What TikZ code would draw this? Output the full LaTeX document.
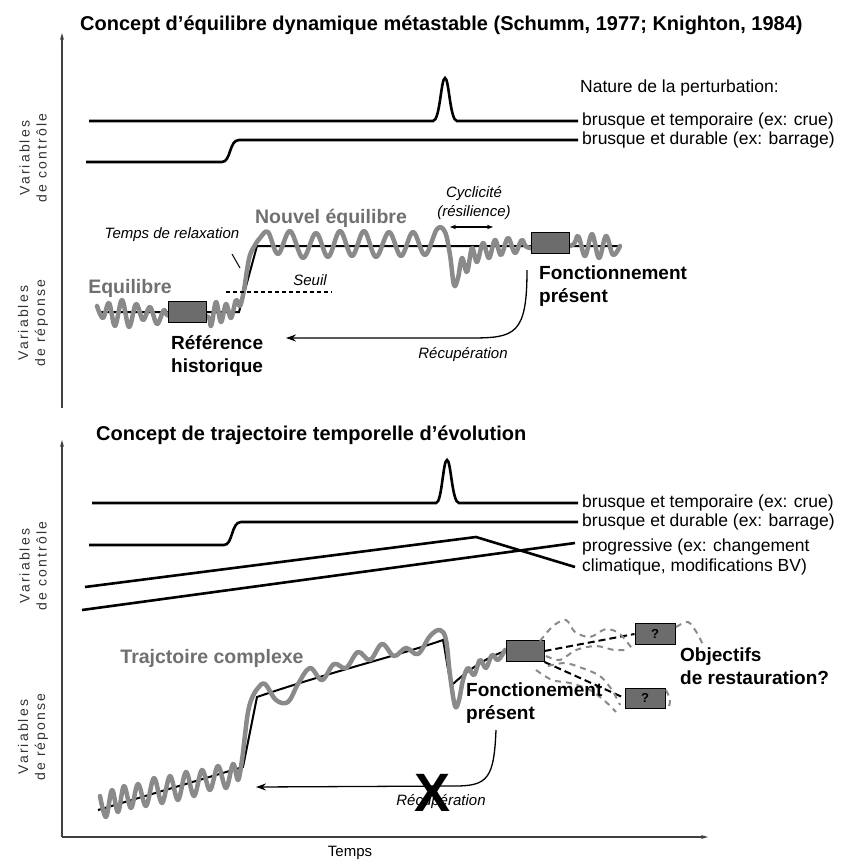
\documentclass[tikz,border=0pt]{standalone}
\usepackage{fontspec}
\setmainfont{Liberation Sans}
\newfontfamily\axisfont[LetterSpace=15]{Liberation Sans}
\usetikzlibrary{arrows.meta}
\definecolor{wavegray}{RGB}{138,138,138}
\definecolor{boxgray}{RGB}{108,108,108}
\definecolor{labgray}{RGB}{112,112,112}

\begin{document}
\begin{tikzpicture}[x=1pt,y=-1pt,
  ttl/.style={inner sep=0pt,anchor=west,font=\fontsize{20}{24}\selectfont\bfseries},
  lbl/.style={inner sep=0pt,anchor=west,font=\fontsize{17.5}{20}\selectfont},
  note/.style={inner sep=0pt,font=\fontsize{15}{19}\selectfont\itshape},
  big/.style={inner sep=0pt,align=left,font=\fontsize{19}{23}\selectfont\bfseries},
  gbig/.style={inner sep=0pt,text=labgray,font=\fontsize{19.5}{23}\selectfont\bfseries},
  axlbl/.style={inner sep=0pt,rotate=90,align=center,text=black!80,font=\axisfont\fontsize{14}{17}\selectfont},
  axis/.style={draw=black!75,line width=1.5pt,-{Stealth[length=7pt,width=4pt]}},
  ctrl/.style={line width=2.6pt,shorten >=4pt},
  trend/.style={line width=2pt},
  wave/.style={draw=wavegray,line width=4.5pt,line join=round,line cap=round},
  bx/.style={draw=black,fill=boxgray,line width=1pt,minimum width=38pt,minimum height=21pt,inner sep=0pt},
  recov/.style={line width=1.3pt,-{Stealth[length=10pt,width=7pt]}},
  branch/.style={line width=2pt,dash pattern=on 7pt off 4pt},
  gdash/.style={draw=wavegray,line width=2pt,dash pattern=on 6pt off 5pt}]
\useasboundingbox (0,0) rectangle (842,862);

% equilibre dynamique metastable
\node[ttl] (title1) at (80,25) {Concept d’équilibre dynamique métastable (Schumm, 1977; Knighton, 1984)};
\coordinate (ax1b) at (62,408);
\coordinate (ax1t) at (62,33);
\draw[axis] (ax1b) -- (ax1t);
\node[axlbl] (ctl1) at (33,158) {Variables\\de contrôle};
\node[axlbl] (rep1) at (33,323) {Variables\\de réponse};

\node[lbl] (nat) at (580,88) {Nature de la perturbation:};
\node[lbl] (crue1) at (582,121) {brusque et temporaire (ex: crue)};
\node[lbl] (barr1) at (582,140) {brusque et durable (ex: barrage)};
\draw[ctrl] (89,121) -- (433,121) .. controls (440,121) and (441,78) .. (445,78)
  .. controls (449,78) and (450,121) .. (457,121) -- (crue1.west);
\draw[ctrl] (86,162) -- (222,162) .. controls (231,162) and (229,140) .. (239,140) -- (barr1.west);

\draw[trend] (100,312) -- (239,312) -- (257,246) -- (620,246);
\draw[wave] plot[smooth,tension=0.6] coordinates {(97,306) (103,318) (109,303) (115,326)
  (122,300) (129,327) (136,304) (143,320) (150,307) (157,324) (164,310) (170,316)
  (206,316) (211,326) (216,302) (221,322) (226,304) (231,318) (236,300) (240,306)
  (244,290) (247,270) (250,255) (255,245) (260,238) (268,232) (278,254) (290,231)
  (303,258) (316,233) (328,257) (340,231) (352,256) (364,231) (376,257) (389,232)
  (401,256) (413,232) (425,255) (437,229) (445,232) (450,255) (454,285) (458,278)
  (462,258) (467,272) (472,248) (477,262) (483,243) (489,258) (495,240) (501,255)
  (508,238) (515,253) (522,240) (530,248) (570,246) (578,236) (585,256) (592,234)
  (599,258) (606,236) (613,255) (620,246)};
\node[bx] (ref) at (187,312) {};
\node[bx] (pres1) at (550,243) {};

\node[gbig] (equi) at (130,288) {Equilibre};
\node[gbig] (neq) at (331,218) {Nouvel équilibre};
\node[note] (relax) at (172,235) {Temps de relaxation};
\coordinate (relaxA) at (232,254);
\coordinate (relaxB) at (240,268);
\draw[line width=1pt] (relaxA) -- (relaxB);
\node[note] (seuil) at (310,280) {Seuil};
\coordinate (seuilA) at (226,292);
\coordinate (seuilB) at (332,292);
\draw[line width=1.3pt,dash pattern=on 4pt off 3pt] (seuilA) -- (seuilB);
\node[note,align=center] (cycl) at (474,203) {Cyclicité\\(résilience)};
\coordinate (cycA) at (450,227);
\coordinate (cycB) at (493,227);
\draw[line width=1.2pt,{Stealth[length=6pt]}-{Stealth[length=6pt]}] (cycA) -- (cycB);

\node[big,anchor=west] (fonc1) at (539,286) {Fonctionnement\\présent};
\node[big,anchor=west] (hist) at (171,356) {Référence\\historique};
\coordinate (rec1a) at (527,270);
\coordinate (rec1b) at (286,338);
\draw[recov] (rec1a) .. controls (527,335) and (515,338) .. (470,338) -- (rec1b);
\node[note] (recu1) at (463,355) {Récupération};

% trajectoire temporelle
\node[ttl] (title2) at (96,435) {Concept de trajectoire temporelle d’évolution};
\coordinate (orig) at (62,837);
\coordinate (ax2t) at (62,440);
\coordinate (ax2r) at (708,837);
\draw[axis] (orig) -- (ax2t);
\draw[axis] (orig) -- (ax2r);
\node[axlbl] (ctl2) at (33,566) {Variables\\de contrôle};
\node[axlbl] (rep2) at (33,737) {Variables\\de réponse};
\node[inner sep=0pt,font=\fontsize{15}{18}\selectfont] (temps) at (350,853) {Temps};

\node[lbl] (crue2) at (582,503) {brusque et temporaire (ex: crue)};
\node[lbl] (barr2) at (582,522) {brusque et durable (ex: barrage)};
\node[lbl,align=left] (prog) at (582,557) {progressive (ex: changement\\climatique, modifications BV)};
\coordinate (progA) at (575,543);
\coordinate (progB) at (575,567);
\draw[ctrl] (92,503) -- (436,503) .. controls (442,503) and (443,460) .. (447,460)
  .. controls (451,460) and (452,503) .. (459,503) -- (crue2.west);
\draw[ctrl] (89,545) -- (224,545) .. controls (233,545) and (231,522) .. (241,522) -- (barr2.west);
\draw[ctrl,shorten >=0pt] (85,587) -- (476,537) -- (progB);
\draw[ctrl,shorten >=0pt] (82,610) -- (progA);

\node[bx] (pres2) at (525,651) {};
\draw[trend] (98,810) -- (243,767) -- (257,697) .. controls (330,672) and (400,655) .. (443,640)
  .. controls (447,660) and (449,683) .. (453,684) .. controls (470,668) and (490,656) .. (pres2.west);
\draw[wave] plot[smooth,tension=0.6] coordinates {(100,796) (106,817) (112,790) (118,812)
  (124,786) (131,808) (138,784) (146,806) (154,778) (162,803) (170,776) (178,800)
  (186,772) (194,796) (202,770) (210,790) (218,766) (226,788) (233,764) (238,780)
  (242,760) (245,735) (248,712) (252,698) (258,688) (265,684) (276,700) (288,702)
  (298,684) (310,668) (322,680) (334,664) (346,668) (358,652) (370,660) (382,644)
  (394,656) (406,648) (418,654) (430,636) (440,630) (446,640) (450,675) (455,706)
  (459,700) (463,680) (468,668) (474,675) (480,660) (486,668) (492,655) (498,660)
  (505,650)};
\node[bx] (pres2b) at (525,651) {};
\node[bx,minimum width=40pt,font=\fontsize{13}{13}\selectfont\bfseries] (q1) at (655,634) {?};
\node[bx,minimum width=40pt,minimum height=20pt,font=\fontsize{13}{13}\selectfont\bfseries] (q2) at (645,698) {?};
\draw[branch] (pres2b.east) -- (q1.west);
\draw[branch] (pres2b.south east) -- (q2.west);
\draw[gdash] plot[smooth] coordinates {(540,641) (553,626) (566,620) (575,632) (590,637) (606,629) (620,634) (633,650)};
\draw[gdash] plot[smooth] coordinates {(546,656) (560,660) (576,650) (596,646) (614,650) (628,650)};
\draw[gdash] plot[smooth] coordinates {(676,627) (688,622) (697,633) (703,645)};
\draw[gdash] plot[smooth] coordinates {(548,666) (565,663) (582,668) (600,676) (612,690) (620,705)};
\draw[gdash] plot[smooth] coordinates {(536,670) (552,680) (570,683) (590,690) (606,702) (616,712)};
\draw[gdash] plot[smooth] coordinates {(666,690) (670,700) (668,710)};

\node[gbig] (traj) at (212,658) {Trajctoire complexe};
\node[big,anchor=west] (fonc2) at (466,703) {Fonctionement\\présent};
\node[big,anchor=west] (obj) at (680,666) {Objectifs\\de restauration?};
\coordinate (rec2a) at (496,730);
\coordinate (rec2b) at (256,787);
\draw[recov] (rec2a) .. controls (494,778) and (488,786) .. (455,786) -- (rec2b);
\node[note] (recu2) at (441,802) {Récupération};
\node[inner sep=0pt,font=\fontsize{54}{54}\selectfont\bfseries] (nox) at (433,793) {X};
\end{tikzpicture}
\end{document}
